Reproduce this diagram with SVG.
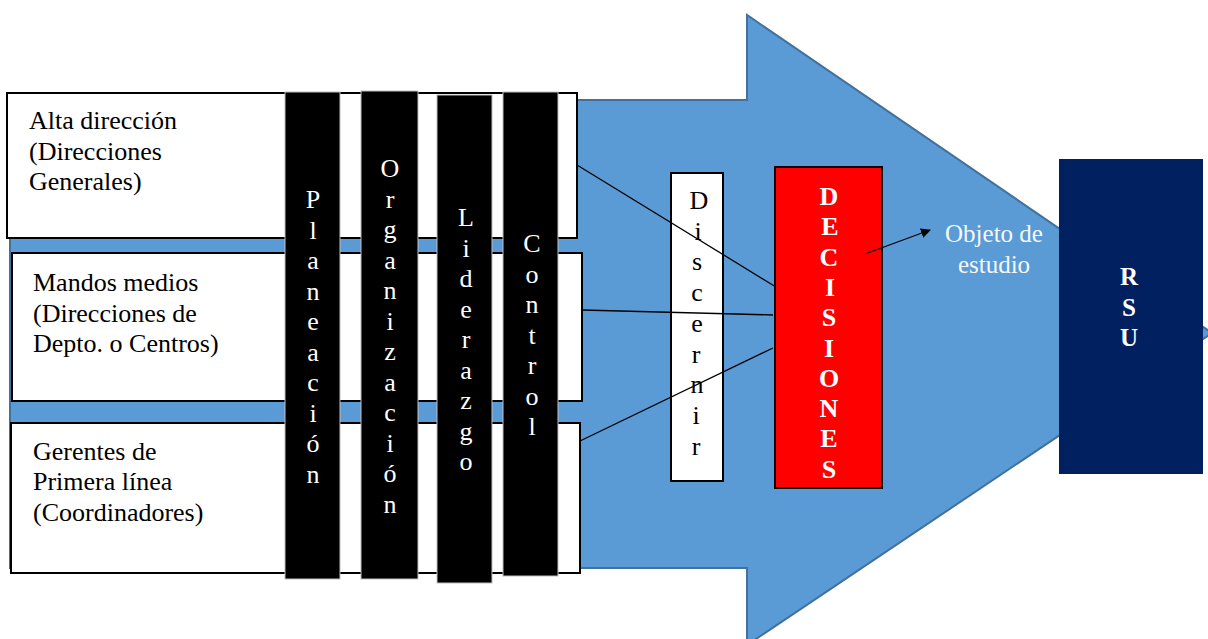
<svg xmlns="http://www.w3.org/2000/svg" width="1208" height="639" viewBox="0 0 1208 639">
  <defs>
    <marker id="ah" markerWidth="10" markerHeight="10" refX="9" refY="5" orient="auto" markerUnits="userSpaceOnUse" viewBox="0 0 10 10">
      <path d="M0,0 L10,5 L0,10 z" fill="#000"/>
    </marker>
    <style>
      .t { font-family: "Liberation Serif", "DejaVu Serif", serif; font-size: 26px; fill: #000; }
      .box { fill: #fff; stroke: #000; stroke-width: 2; }
      .bar { fill: #000; stroke: #bfbfbf; stroke-width: 1; }
      .vw { font-family: "Liberation Serif", "DejaVu Serif", serif; font-size: 26px; fill: #fff; text-anchor: middle; }
      .vb { font-family: "Liberation Serif", "DejaVu Serif", serif; font-size: 26px; fill: #000; text-anchor: middle; }
      .vbold { font-family: "Liberation Serif", "DejaVu Serif", serif; font-size: 26px; font-weight: bold; fill: #fff; text-anchor: middle; }
      .lt { font-family: "Liberation Serif", "DejaVu Serif", serif; font-size: 25px; fill: #f4f7fb; text-anchor: middle; }
      .conn { stroke: #000; stroke-width: 1.3; fill: none; }
    </style>
  </defs>

  <g id="big-arrow">
    <path d="M10,100 L747,100 L747,15 L1212,333 L747,645 L747,568 L10,568 Z" fill="#5b9bd5" stroke="#41719c" stroke-width="2" stroke-linejoin="miter"/>
  </g>

  <g id="alta-direccion">
    <rect class="box" x="7" y="93" width="570" height="145"/>
    <text class="t" x="29" y="129">Alta dirección</text>
    <text class="t" x="29" y="160">(Direcciones</text>
    <text class="t" x="29" y="190">Generales)</text>
  </g>

  <g id="mandos-medios">
    <rect class="box" x="12" y="253" width="570" height="148"/>
    <text class="t" x="33" y="291">Mandos medios</text>
    <text class="t" x="33" y="322">(Direcciones de</text>
    <text class="t" x="33" y="352">Depto. o Centros)</text>
  </g>

  <g id="gerentes">
    <rect class="box" x="11" y="423" width="569" height="150"/>
    <text class="t" x="33" y="460">Gerentes de</text>
    <text class="t" x="33" y="490">Primera línea</text>
    <text class="t" x="33" y="521">(Coordinadores)</text>
  </g>

  <g id="planeacion">
    <rect class="bar" x="285" y="92" width="55" height="487"/>
    <text class="vw" x="313" y="208"><tspan x="313">P</tspan><tspan x="313" dy="30.5">l</tspan><tspan x="313" dy="30.5">a</tspan><tspan x="313" dy="30.5">n</tspan><tspan x="313" dy="30.5">e</tspan><tspan x="313" dy="30.5">a</tspan><tspan x="313" dy="30.5">c</tspan><tspan x="313" dy="30.5">i</tspan><tspan x="313" dy="30.5">ó</tspan><tspan x="313" dy="30.5">n</tspan></text>
  </g>

  <g id="organizacion">
    <rect class="bar" x="361" y="91" width="57" height="488"/>
    <text class="vw" x="390" y="177"><tspan x="390">O</tspan><tspan x="390" dy="30.5">r</tspan><tspan x="390" dy="30.5">g</tspan><tspan x="390" dy="30.5">a</tspan><tspan x="390" dy="30.5">n</tspan><tspan x="390" dy="30.5">i</tspan><tspan x="390" dy="30.5">z</tspan><tspan x="390" dy="30.5">a</tspan><tspan x="390" dy="30.5">c</tspan><tspan x="390" dy="30.5">i</tspan><tspan x="390" dy="30.5">ó</tspan><tspan x="390" dy="30.5">n</tspan></text>
  </g>

  <g id="liderazgo">
    <rect class="bar" x="437" y="95" width="55" height="488"/>
    <text class="vw" x="466" y="226"><tspan x="466">L</tspan><tspan x="466" dy="30.5">i</tspan><tspan x="466" dy="30.5">d</tspan><tspan x="466" dy="30.5">e</tspan><tspan x="466" dy="30.5">r</tspan><tspan x="466" dy="30.5">a</tspan><tspan x="466" dy="30.5">z</tspan><tspan x="466" dy="30.5">g</tspan><tspan x="466" dy="30.5">o</tspan></text>
  </g>

  <g id="control">
    <rect class="bar" x="503" y="92" width="55" height="484"/>
    <text class="vw" x="532" y="252"><tspan x="532">C</tspan><tspan x="532" dy="30.5">o</tspan><tspan x="532" dy="30.5">n</tspan><tspan x="532" dy="30.5">t</tspan><tspan x="532" dy="30.5">r</tspan><tspan x="532" dy="30.5">o</tspan><tspan x="532" dy="30.5">l</tspan></text>
  </g>

  <g id="discernir">
    <rect class="box" x="671" y="173" width="52" height="308"/>
    <text class="vb" x="699" y="209"><tspan x="699">D</tspan><tspan x="698" dy="30.7">i</tspan><tspan x="697" dy="30.7">s</tspan><tspan x="697" dy="30.7">c</tspan><tspan x="697" dy="30.7">e</tspan><tspan x="696" dy="30.7">r</tspan><tspan x="697" dy="30.7">n</tspan><tspan x="696" dy="30.7">i</tspan><tspan x="696" dy="30.7">r</tspan></text>
  </g>

  <g id="decisiones">
    <rect x="775" y="167" width="107" height="321" fill="#ff0000" stroke="#000" stroke-width="2"/>
    <text class="vbold" x="829" y="205"><tspan x="829">D</tspan><tspan x="830" dy="30.3">E</tspan><tspan x="829" dy="30.3">C</tspan><tspan x="830" dy="30.3">I</tspan><tspan x="829" dy="30.3">S</tspan><tspan x="829" dy="30.3">I</tspan><tspan x="829" dy="30.3">O</tspan><tspan x="829" dy="30.3">N</tspan><tspan x="829" dy="30.3">E</tspan><tspan x="829" dy="30.3">S</tspan></text>
  </g>

  <g id="objeto-de-estudio">
    <text class="lt" x="994" y="242">Objeto de</text>
    <text class="lt" x="994" y="273">estudio</text>
  </g>

  <g id="rsu">
    <rect x="1059" y="159" width="144" height="315" fill="#002060"/>
    <text x="1129" y="285" font-family="Liberation Serif, DejaVu Serif, serif" font-size="25" font-weight="bold" fill="#fff" text-anchor="middle"><tspan x="1129">R</tspan><tspan x="1129" dy="30.5">S</tspan><tspan x="1129" dy="30.5">U</tspan></text>
  </g>

  <g id="connectors">
    <line class="conn" x1="577" y1="165" x2="776" y2="287"/>
    <line class="conn" x1="582" y1="310" x2="773" y2="315"/>
    <line class="conn" x1="580" y1="441" x2="773" y2="348"/>
    <line class="conn" x1="865" y1="254" x2="930" y2="230" marker-end="url(#ah)"/>
  </g>
</svg>
